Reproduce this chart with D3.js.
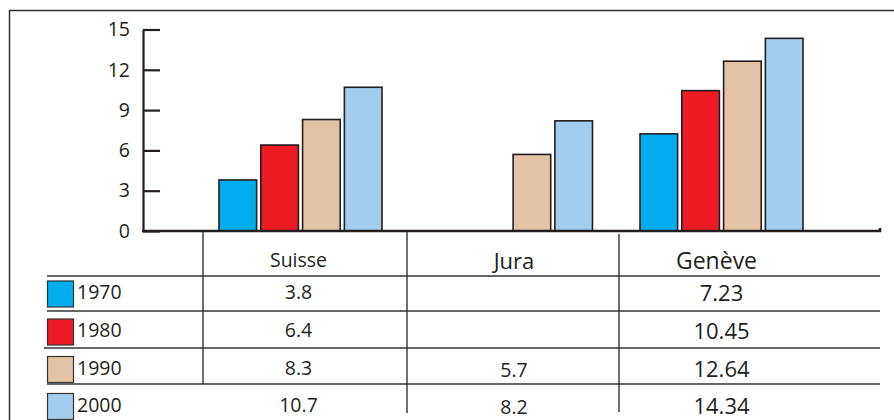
<!DOCTYPE html>
<html><head><meta charset="utf-8">
<script src="https://cdn.jsdelivr.net/npm/d3@7"></script>
<style>body{margin:0;background:#fff}svg{display:block;font-family:"Open Sans",sans-serif}</style>
</head><body><svg id="c" width="894" height="420"></svg>
<script>
const categories = ["Suisse", "Jura", "Genève"];
const years = ["1970", "1980", "1990", "2000"];
const v1970 = [3.8, null, 7.23];
const v1980 = [6.4, null, 10.45];
const v1990 = [8.3, 5.7, 12.64];
const v2000 = [10.7, 8.2, 14.34];
const labels1970 = ["3.8", "", "7.23"];
const labels1980 = ["6.4", "", "10.45"];
const labels1990 = ["8.3", "5.7", "12.64"];
const labels2000 = ["10.7", "8.2", "14.34"];
const yTicks = [0, 3, 6, 9, 12, 15];
const colors = ["#00aeef", "#ed1c24", "#e2c3a6", "#a3cdee"];

const series = [v1970, v1980, v1990, v2000];
const labels = [labels1970, labels1980, labels1990, labels2000];
const ink = "#231f20";

const svg = d3.select("#c");
svg.append("path").attr("d", "M9.5,420 V10.5 H894").attr("fill", "none").attr("stroke", "#333").attr("stroke-width", 1.5);

const y = d3.scaleLinear().domain([0, 15]).range([231, 29.5]);
const x0 = d3.scaleBand().domain(categories).range([195.25, 826.75]).padding(0);
const x1 = d3.scaleBand().domain(years).range([-81.5, 81.5]).paddingInner(0.1).paddingOuter(0);

const bars = svg.append("g");
categories.forEach((c, ci) => {
  years.forEach((yr, yi) => {
    const v = series[yi][ci];
    if (v == null) return;
    const cx = x0(c) + x0.bandwidth() / 2;
    bars.append("rect")
      .attr("x", cx + x1(yr))
      .attr("y", y(v))
      .attr("width", x1.bandwidth())
      .attr("height", y(0) - y(v))
      .attr("fill", colors[yi])
      .attr("stroke", ink).attr("stroke-width", 1.6);
  });
});

const yAxis = d3.axisLeft(y).tickValues(yTicks).tickSizeInner(-17).tickSizeOuter(0).tickPadding(13);
const gy = svg.append("g").attr("transform", "translate(143,0)").call(yAxis);
gy.select(".domain").attr("stroke", ink).attr("stroke-width", 2.2);
gy.selectAll(".tick line").attr("stroke", ink).attr("stroke-width", 2.2);
gy.selectAll(".tick text").attr("font-size", 19.5).attr("fill", ink).attr("font-family", "Open Sans");

svg.append("path").attr("d", `M142,${y(0)} H880 V${y(0) - 3}`).attr("fill", "none").attr("stroke", ink).attr("stroke-width", 2.5);

const colEdges = [203, 407, 619];
const rowTop = [276, 311, 348, 384];
const grid = svg.append("g").attr("stroke", "#333").attr("stroke-width", 1.4);
rowTop.forEach((ry, i) => {
  grid.append("line").attr("x1", i === 2 ? 44 : 47).attr("x2", 880).attr("y1", ry).attr("y2", ry);
});
grid.append("line").attr("x1", colEdges[0]).attr("x2", colEdges[0]).attr("y1", 232).attr("y2", 384);
grid.append("line").attr("x1", colEdges[1]).attr("x2", colEdges[1]).attr("y1", 232).attr("y2", 413);
grid.append("line").attr("x1", colEdges[2]).attr("x2", colEdges[2]).attr("y1", 234).attr("y2", 412);

const headerSize = [19.5, 22, 23];
const headerBase = [267, 269, 269];
categories.forEach((c, ci) => {
  svg.append("text").attr("x", x0(c) + x0.bandwidth() / 2 - (ci === 0 ? 2 : ci === 2 ? 5 : -3))
    .attr("y", headerBase[ci]).attr("text-anchor", "middle")
    .attr("font-size", headerSize[ci]).attr("fill", ink).text(c);
});

const rowBase = [299, 337, 374.5, 411.5];
years.forEach((yr, yi) => {
  const sy = rowBase[yi] - 18;
  svg.append("rect").attr("x", 47.5).attr("y", sy).attr("width", 26).attr("height", 26)
    .attr("fill", colors[yi]).attr("stroke", "#333").attr("stroke-width", 1.2);
  svg.append("text").attr("x", 77).attr("y", rowBase[yi]).attr("font-size", 19.5).attr("fill", ink).text(yr);
  categories.forEach((c, ci) => {
    const t = labels[yi][ci];
    if (!t) return;
    svg.append("text").attr("x", x0(c) + x0.bandwidth() / 2 + (ci === 0 ? -2 : ci === 1 ? 3 : 0))
      .attr("y", rowBase[yi] + (ci === 0 ? 0 : 2))
      .attr("text-anchor", "middle")
      .attr("font-size", ci === 2 ? 22 : 19.5).attr("fill", ink).text(t);
  });
});
</script></body></html>
